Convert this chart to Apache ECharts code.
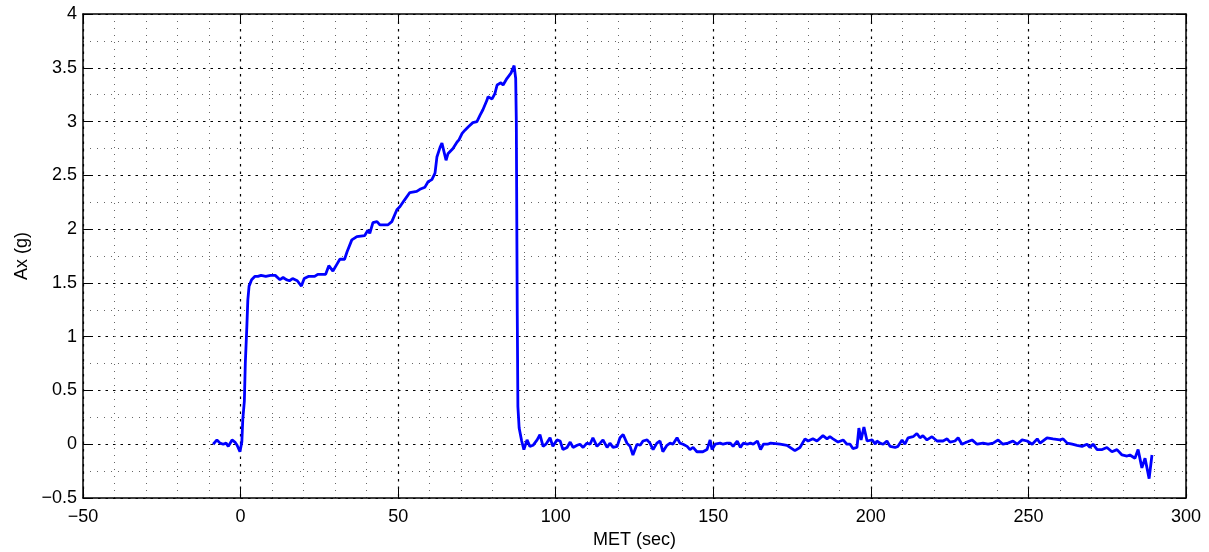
<!DOCTYPE html>
<html>
<head>
<meta charset="utf-8">
<script src="https://cdn.jsdelivr.net/npm/echarts@6/dist/echarts.min.js"></script>
<style>
html, body { margin: 0; padding: 0; background: #fff; }
#axChart { width: 1209px; height: 552px; }
</style>
</head>
<body>
<div id="axChart"></div>
<script>
// MET (sec)
var met = [
    -8.7, -7.5, -6.5, -5.5, -4.6, -3.9, -2.7, -1.8, -1.1, -0.2,
    0.4, 0.7, 1.2, 1.5, 2.0, 2.3, 2.7, 3.5, 4.5, 5.5,
    6.5, 8.0, 9.5, 11.0, 12.5, 13.5, 14.5, 15.5, 16.5, 18.0,
    19.3, 20.2, 21.5, 22.5, 23.5, 24.5, 26.0, 27.0, 28.0, 29.3,
    30.5, 31.5, 33.0, 33.8, 35.3, 36.9, 39.4, 40.4, 41.0, 42.0,
    43.3, 44.2, 46.8, 48.0, 49.6, 50.6, 52.0, 53.7, 55.9, 56.9,
    58.5, 59.5, 60.7, 61.7, 62.3, 63.3, 63.9, 65.2, 65.8, 67.4,
    68.7, 69.3, 70.3, 71.2, 72.2, 73.7, 75.0, 76.0, 76.9, 78.2,
    78.5, 79.8, 80.7, 81.4, 82.6, 83.3, 84.5, 85.8, 86.8, 87.3,
    87.5, 87.8, 88.0, 88.4, 89.2, 89.9,
    90.9, 91.8, 92.8, 94.1, 95.0, 96.0, 96.9, 98.2, 99.1, 100.4,
    101.4, 102.3, 103.6, 104.6, 105.5, 106.8, 107.7, 108.7, 109.9, 110.9,
    111.8, 113.1, 114.1, 115.0, 116.3, 117.2, 118.2, 119.5, 120.4, 121.4,
    122.6, 123.6, 124.5, 125.8, 126.8, 127.7, 129.0, 129.9, 130.9, 132.1,
    133.1, 134.0, 135.3, 136.3, 137.2, 138.5, 139.4, 140.4, 141.7, 142.6,
    143.6, 144.8, 145.8, 146.7, 148.0, 149.0, 149.6, 150.6, 152.2, 153.1,
    154.4, 155.4, 156.3, 157.6, 158.6, 159.5, 160.8, 161.8, 162.7, 164.0,
    165.0, 165.9, 167.2, 168.2,
    171.2, 173.4, 175.9, 177.5, 179.1, 180.1, 181.6, 182.9, 184.8, 186.1,
    187.0, 188.0, 189.6, 191.2, 192.4, 193.4, 194.3, 195.6, 196.2, 196.9,
    197.8, 198.8, 200.4, 201.4, 201.9, 202.9, 203.9, 205.1, 206.1, 207.7,
    208.6, 209.9, 210.8, 211.8, 213.4, 214.6, 215.6, 216.5, 217.8, 219.4,
    221.0, 222.9, 224.2, 225.1, 226.7, 227.7, 228.9, 230.5, 232.1, 233.7,
    235.6, 237.2, 238.8, 240.4, 241.9, 243.5, 245.1, 246.4, 248.0, 249.6,
    251.2, 252.8, 253.7, 255.9, 257.8, 260.0, 261.0, 262.3, 263.9, 265.4,
    267.0, 268.6, 269.5, 270.5, 271.8, 273.4, 274.9, 276.5, 278.1, 279.7,
    281.3, 282.2, 283.8, 284.8, 286.0, 287.0, 288.3, 289.2
];

// Ax (g)
var ax = [
    0.00, 0.04, 0.01, 0.00, 0.01, -0.02, 0.04, 0.02, -0.01, -0.07,
    0.02, 0.23, 0.40, 0.75, 1.10, 1.34, 1.47, 1.53, 1.56, 1.56,
    1.57, 1.56, 1.57, 1.57, 1.53, 1.55, 1.53, 1.52, 1.54, 1.52,
    1.47, 1.54, 1.56, 1.56, 1.56, 1.58, 1.58, 1.58, 1.66, 1.61,
    1.67, 1.72, 1.72, 1.79, 1.90, 1.93, 1.94, 1.99, 1.96, 2.06,
    2.07, 2.04, 2.04, 2.07, 2.18, 2.21, 2.27, 2.34, 2.35, 2.37,
    2.39, 2.44, 2.46, 2.52, 2.67, 2.76, 2.80, 2.64, 2.70, 2.75,
    2.81, 2.83, 2.89, 2.92, 2.95, 2.99, 3.00, 3.06, 3.11, 3.20,
    3.23, 3.21, 3.26, 3.34, 3.36, 3.34, 3.40, 3.45, 3.52, 3.40,
    3.00, 1.20, 0.35, 0.15, 0.03, -0.05,
    0.04, -0.02, -0.01, 0.04, 0.09, -0.02, 0.00, 0.06, -0.02, 0.04,
    0.03, -0.05, -0.03, 0.02, -0.03, -0.01, 0.00, -0.03, 0.01, 0.00,
    0.06, -0.02, 0.01, 0.04, -0.03, 0.01, -0.03, -0.02, 0.06, 0.09,
    0.01, -0.02, -0.10, 0.00, -0.01, 0.03, 0.04, 0.01, -0.05, 0.01,
    0.03, -0.07, -0.01, 0.01, 0.00, 0.06, 0.01, 0.00, -0.02, -0.05,
    -0.03, -0.07, -0.07, -0.07, -0.05, 0.04, -0.05, 0.00, 0.01, 0.00,
    0.01, 0.01, -0.02, 0.03, -0.03, 0.01, 0.00, 0.01, 0.00, 0.03,
    -0.05, 0.00, 0.00, 0.01,
    0.00, -0.01, -0.06, -0.03, 0.05, 0.03, 0.05, 0.03, 0.08, 0.05,
    0.07, 0.05, 0.02, 0.04, 0.00, 0.00, -0.04, -0.03, 0.15, 0.04,
    0.16, 0.03, 0.04, 0.00, 0.03, 0.01, 0.00, 0.03, -0.02, -0.03,
    -0.02, 0.04, 0.00, 0.06, 0.07, 0.10, 0.06, 0.08, 0.04, 0.07,
    0.03, 0.03, 0.05, 0.02, 0.03, 0.06, 0.00, 0.02, 0.04, 0.00,
    0.01, 0.00, 0.01, 0.04, 0.00, 0.01, 0.03, 0.00, 0.04, 0.03,
    0.00, 0.05, 0.01, 0.06, 0.05, 0.04, 0.05, 0.01, 0.00, -0.01,
    -0.02, 0.00, -0.03, 0.00, -0.05, -0.05, -0.03, -0.07, -0.05, -0.10,
    -0.11, -0.10, -0.13, -0.05, -0.22, -0.13, -0.32, -0.10
];

var fontName = '"Liberation Sans", Arial, Helvetica, sans-serif';

// 负号用长减号
function fmtTick(v) {
    return v < 0 ? '\u2212' + Math.abs(v) : String(v);
}

var points = [];
for (var i = 0; i < met.length; i++) {
    points.push([met[i], ax[i]]);
}

var myChart = echarts.init(document.getElementById('axChart'));

var majorGrid = { show: true, lineStyle: { color: '#000', width: 1.2, type: [2.5, 5] } };
var minorGrid = { show: true, lineStyle: { color: '#666', width: 1, type: [1, 6] } };
var boxLine = { show: true, onZero: false, lineStyle: { color: '#000', width: 1.5 } };
var innerTick = { show: true, inside: true, length: 10, lineStyle: { color: '#000', width: 1 } };

var option = {
    animation: false,
    backgroundColor: '#fff',
    textStyle: { fontFamily: fontName },
    grid: { left: 83, right: 23, top: 14, bottom: 54, containLabel: false, outerBoundsMode: 'none' },
    xAxis: [{
        type: 'value',
        min: -50,
        max: 300,
        interval: 50,
        name: 'MET (sec)',
        nameLocation: 'middle',
        nameGap: 33,
        nameTextStyle: { fontSize: 18, color: '#000', fontFamily: fontName },
        axisLine: boxLine,
        axisTick: innerTick,
        axisLabel: { fontSize: 18, color: '#000', margin: 10, formatter: fmtTick },
        splitLine: majorGrid,
        minorTick: { show: false, splitNumber: 5 },
        minorSplitLine: minorGrid
    }, {
        type: 'value',
        position: 'top',
        min: -50,
        max: 300,
        interval: 50,
        axisLine: boxLine,
        axisTick: innerTick,
        axisLabel: { show: false },
        splitLine: { show: false }
    }],
    yAxis: [{
        type: 'value',
        min: -0.5,
        max: 4,
        interval: 0.5,
        name: 'Ax (g)',
        nameLocation: 'middle',
        nameGap: 52,
        nameTextStyle: { fontSize: 18, color: '#000', fontFamily: fontName },
        axisLine: boxLine,
        axisTick: innerTick,
        axisLabel: { fontSize: 18, color: '#000', margin: 6, formatter: fmtTick },
        splitLine: majorGrid,
        minorTick: { show: false, splitNumber: 2 },
        minorSplitLine: minorGrid
    }, {
        type: 'value',
        position: 'right',
        min: -0.5,
        max: 4,
        interval: 0.5,
        axisLine: boxLine,
        axisTick: innerTick,
        axisLabel: { show: false },
        splitLine: { show: false }
    }],
    series: [{
        name: 'Ax',
        type: 'line',
        xAxisIndex: 0,
        yAxisIndex: 0,
        showSymbol: false,
        smooth: false,
        lineStyle: { color: '#0000ff', width: 2.8 },
        data: points
    }]
};

myChart.setOption(option);
</script>
</body>
</html>
